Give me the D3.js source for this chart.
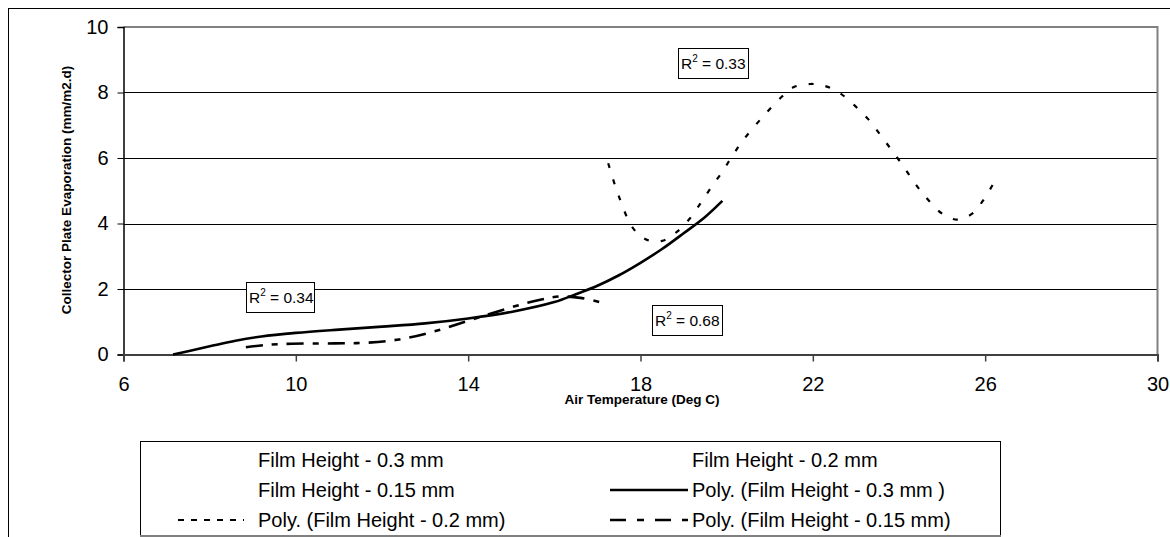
<!DOCTYPE html>
<html>
<head>
<meta charset="utf-8">
<script src="https://cdn.jsdelivr.net/npm/d3@7"></script>
<style>
  html, body { margin: 0; padding: 0; background: #fff; }
  svg { display: block; font-family: "Liberation Sans", Arial, sans-serif; }
</style>
</head>
<body>
<svg id="chart" width="1170" height="537"></svg>
<script>
// Axis settings
const xTicks = [6, 10, 14, 18, 22, 26, 30];
const yTicks = [0, 2, 4, 6, 8, 10];
const xTitle = "Air Temperature (Deg C)";
const yTitle = "Collector Plate Evaporation (mm/m2.d)";

// Polynomial trend lines: [air temperature, evaporation]
const trend03 = [
  [7.15, 0.0], [7.6, 0.13], [8.1, 0.28], [8.6, 0.42], [9.2, 0.55], [10.0, 0.66],
  [11.0, 0.76], [12.0, 0.85], [13.0, 0.95], [14.0, 1.1], [15.0, 1.3],
  [16.0, 1.6], [16.5, 1.84], [17.0, 2.1], [17.5, 2.42], [18.0, 2.8],
  [18.5, 3.22], [19.0, 3.7], [19.5, 4.2], [19.9, 4.69]
];
const trend02 = [
  [17.25, 5.84], [17.5, 4.82], [17.83, 3.85], [18.15, 3.5], [18.5, 3.47],
  [18.85, 3.75], [19.15, 4.16], [19.42, 4.67], [19.65, 5.12], [19.9, 5.58],
  [20.12, 6.04], [20.37, 6.52], [20.8, 7.2], [21.28, 7.87], [21.55, 8.16],
  [21.95, 8.26], [22.28, 8.2], [22.63, 7.98], [22.98, 7.59], [23.29, 7.18],
  [23.56, 6.72], [23.83, 6.24], [24.09, 5.77], [24.33, 5.3], [24.6, 4.84],
  [25.0, 4.3], [25.35, 4.12], [25.7, 4.3], [26.0, 4.8], [26.3, 5.48]
];
const trend015 = [
  [8.84, 0.22], [9.3, 0.29], [9.9, 0.33], [10.9, 0.34], [11.65, 0.36],
  [12.4, 0.46], [13.2, 0.7], [14.1, 1.07], [15.1, 1.48], [15.7, 1.68],
  [16.1, 1.77], [16.6, 1.73], [17.05, 1.6]
];

// R-squared values of the three fits
const rSquared = ["0.34", "0.33", "0.68"];

// Legend entries (two columns, three rows)
const legendNames = [
  "Film Height - 0.3 mm", "Film Height - 0.2 mm",
  "Film Height - 0.15 mm", "Poly. (Film Height - 0.3 mm )",
  "Poly. (Film Height - 0.2 mm)", "Poly. (Film Height - 0.15 mm)"
];
const legendStyles = [null, null, null, "solid", "dash", "dashdot"];

const svg = d3.select("#chart");

// Outer chart frame
svg.append("rect")
  .attr("x", 8.5).attr("y", 8.5).attr("width", 1300).attr("height", 700)
  .attr("fill", "#fff").attr("stroke", "#000").attr("stroke-width", 1);

const x = d3.scaleLinear().domain([6, 30]).range([123.5, 1157.5]);
const y = d3.scaleLinear().domain([0, 10]).range([354.5, 27]);

// Horizontal gridlines
svg.append("g")
  .selectAll("line")
  .data(yTicks.filter(v => v > 0 && v < 10))
  .join("line")
  .attr("x1", x(6)).attr("x2", x(30))
  .attr("y1", d => Math.round(y(d)) + 0.5).attr("y2", d => Math.round(y(d)) + 0.5)
  .attr("stroke", "#000").attr("stroke-width", 1);

// Plot area border (top and right)
svg.append("path")
  .attr("d", `M${x(6)},${y(10)}H${x(30)}V${y(0)}`)
  .attr("fill", "none").attr("stroke", "#808080").attr("stroke-width", 2);

// Y axis
const yAxis = svg.append("g")
  .attr("transform", `translate(${x(6)},0)`)
  .call(d3.axisLeft(y).tickValues(yTicks).tickSize(6).tickPadding(9).tickFormat(d3.format("d")));
yAxis.select(".domain").attr("stroke", "#000").attr("stroke-width", 1.5);
yAxis.selectAll(".tick line").attr("stroke", "#000").attr("stroke-width", 1);
yAxis.selectAll(".tick text")
  .attr("font-size", 20).attr("fill", "#000")
  .attr("font-family", "Liberation Sans, Arial, sans-serif");

// X axis
const xAxis = svg.append("g")
  .attr("transform", `translate(0,${y(0)})`)
  .call(d3.axisBottom(x).tickValues(xTicks).tickSize(7).tickPadding(20).tickFormat(d3.format("d")));
xAxis.select(".domain").attr("stroke", "#404040").attr("stroke-width", 2);
xAxis.selectAll(".tick line").attr("stroke", "#404040").attr("stroke-width", 1.5);
xAxis.selectAll(".tick text")
  .attr("font-size", 20).attr("fill", "#000")
  .attr("font-family", "Liberation Sans, Arial, sans-serif")
  .attr("dy", "0")
  .attr("y", 36);

// Axis titles
svg.append("text")
  .attr("x", 642).attr("y", 404)
  .attr("text-anchor", "middle")
  .attr("font-size", 13.5).attr("font-weight", "bold")
  .text(xTitle);

svg.append("text")
  .attr("transform", "translate(71,190) rotate(-90)")
  .attr("text-anchor", "middle")
  .attr("font-size", 13.5).attr("font-weight", "bold")
  .text(yTitle);

// Trend lines
const line = d3.line()
  .x(d => x(d[0])).y(d => y(d[1]))
  .curve(d3.curveCatmullRom.alpha(0.5));

svg.append("path").datum(trend015)
  .attr("d", line).attr("fill", "none")
  .attr("stroke", "#000").attr("stroke-width", 2.6)
  .attr("stroke-dasharray", "17,9,6,9");

svg.append("path").datum(trend02)
  .attr("d", line).attr("fill", "none")
  .attr("stroke", "#000").attr("stroke-width", 2.2)
  .attr("stroke-dasharray", "5,12");

svg.append("path").datum(trend03)
  .attr("d", line).attr("fill", "none")
  .attr("stroke", "#000").attr("stroke-width", 2.6);

// R-squared labels
const rBoxes = [
  { x: 246, y: 282, w: 68, h: 30 },
  { x: 678, y: 48, w: 70, h: 30 },
  { x: 652, y: 305, w: 70, h: 30 }
];
rSquared.forEach((val, i) => {
  const b = rBoxes[i];
  svg.append("rect")
    .attr("x", b.x + 0.5).attr("y", b.y + 0.5).attr("width", b.w).attr("height", b.h)
    .attr("fill", "#fff").attr("stroke", "#000").attr("stroke-width", 1);
  const t = svg.append("text")
    .attr("x", b.x + 3).attr("y", b.y + 21)
    .attr("font-size", 15.5).attr("fill", "#000");
  t.append("tspan").text("R");
  t.append("tspan").attr("font-size", 10).attr("dy", -7).text("2");
  t.append("tspan").attr("dy", 7).text(" = " + val);
});

// Legend
svg.append("rect")
  .attr("x", 140.5).attr("y", 441.5).attr("width", 860).attr("height", 94)
  .attr("fill", "#fff").attr("stroke", "#000").attr("stroke-width", 1);
svg.append("line")
  .attr("x1", 140).attr("x2", 1001).attr("y1", 536).attr("y2", 536)
  .attr("stroke", "#808080").attr("stroke-width", 2);

const rowY = [467, 497, 527];
const colText = [258, 692];
const colSym = [[178, 244], [610, 688]];
legendNames.forEach((name, i) => {
  const col = i % 2, row = Math.floor(i / 2);
  const style = legendStyles[i];
  if (style) {
    const s = svg.append("line")
      .attr("x1", colSym[col][0]).attr("x2", colSym[col][1])
      .attr("y1", rowY[row] - 7).attr("y2", rowY[row] - 7)
      .attr("stroke", "#000").attr("stroke-width", style === "dash" ? 2.2 : 2.6);
    if (style === "dash") s.attr("stroke-dasharray", "6,7");
    if (style === "dashdot") s.attr("stroke-dasharray", "16,11,7,11");
  }
  svg.append("text")
    .attr("x", colText[col]).attr("y", rowY[row])
    .attr("font-size", 20).attr("fill", "#000")
    .text(name);
});
</script>
</body>
</html>
